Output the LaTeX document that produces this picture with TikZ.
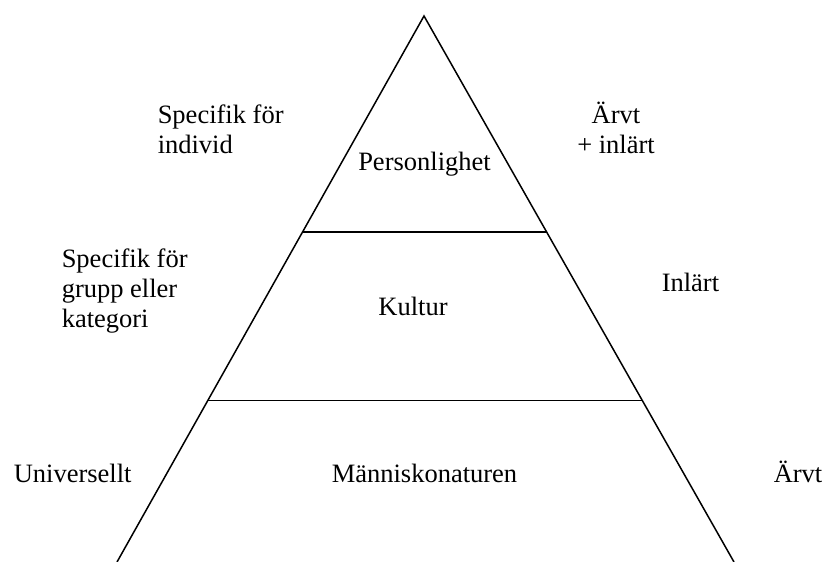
\documentclass[tikz,border=0pt]{standalone}
\usepackage{fontspec}
\setmainfont{Liberation Serif}
\usetikzlibrary{calc}

\begin{document}
\begin{tikzpicture}[x=1pt, y=-1pt, line width=1.5pt,
    lbl/.style={inner sep=0pt, font=\fontsize{26.5}{30}\selectfont}]
    \useasboundingbox (0, 0) rectangle (825, 562);

    % Pyramid corners
    \coordinate (A) at (424, 16);
    \coordinate (BL) at (117, 562);
    \coordinate (BR) at (734, 562);

    % Sides
    \draw (BL) -- (A) -- (BR);

    % Dividing lines
    \coordinate (L1) at ($(A)!0.3956!(BL)$);
    \coordinate (R1) at ($(A)!0.3956!(BR)$);
    \coordinate (L2) at ($(A)!0.7042!(BL)$);
    \coordinate (R2) at ($(A)!0.7042!(BR)$);
    \draw[line width=1.8pt] (L1) -- (R1);
    \draw[line width=1.8pt] (L2) -- (R2);

    % Levels
    \node[lbl, anchor=base] (pers) at (424.5, 170) {Personlighet};
    \node[lbl, anchor=base] (kult) at (413, 315) {Kultur};
    \node[lbl, anchor=base] (mann) at (424.5, 482) {Människonaturen};

    % Left side (base = last line)
    \node[lbl, anchor=base west, align=left] (indiv) at (157, 153) {Specifik för\\individ};
    \node[lbl, anchor=base west, align=left] (grupp) at (61, 327) {Specifik för\\grupp eller\\kategori};
    \node[lbl, anchor=base west] (univ) at (13, 482) {Universellt};

    % Right side
    \node[lbl, anchor=base, align=center] (arvinl) at (616, 153) {Ärvt\\+ inlärt};
    \node[lbl, anchor=base west] (inl) at (661, 291) {Inlärt};
    \node[lbl, anchor=base west] (arv) at (773, 482) {Ärvt};
\end{tikzpicture}
\end{document}
